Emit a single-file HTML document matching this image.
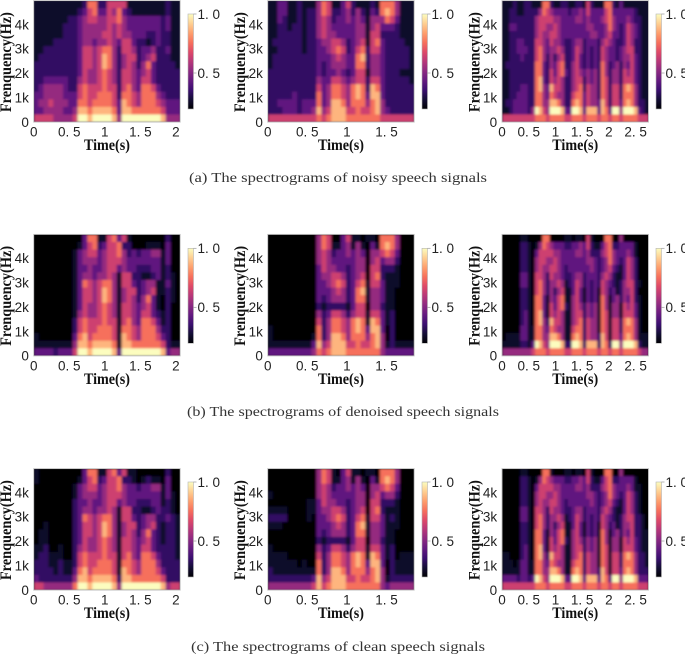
<!DOCTYPE html>
<html>
<head>
<meta charset="utf-8">
<title>Spectrograms of speech signals</title>
<style>
html,body{margin:0;padding:0;background:#fff;}
svg{display:block;}
text{fill:#222;}
.tick{font-family:"Liberation Sans",sans-serif;font-size:13.5px;}
.axis{font-family:"Liberation Serif",serif;font-weight:bold;font-size:16px;fill:#111;}
.cap{font-family:"Liberation Serif",serif;font-size:14px;fill:#333;}
</style>
</head>
<body>
<svg id="figure" xmlns="http://www.w3.org/2000/svg" width="685" height="655" viewBox="0 0 685 655">
<defs>
<filter id="soft" x="-5%" y="-5%" width="110%" height="110%"><feGaussianBlur stdDeviation="1.3 1.1"/></filter>
<linearGradient id="magma" x1="0" y1="1" x2="0" y2="0">
<stop offset="0" stop-color="#000004"/><stop offset="0.1" stop-color="#140e36"/><stop offset="0.2" stop-color="#3b0f70"/><stop offset="0.3" stop-color="#641a80"/><stop offset="0.4" stop-color="#8c2981"/><stop offset="0.5" stop-color="#b73779"/><stop offset="0.6" stop-color="#de4968"/><stop offset="0.7" stop-color="#f7705c"/><stop offset="0.8" stop-color="#fe9f6d"/><stop offset="0.9" stop-color="#fecf92"/><stop offset="1" stop-color="#fcfdbf"/>
</linearGradient>
</defs>
<text class="cap" x="189" y="182" textLength="298" lengthAdjust="spacingAndGlyphs">(a)  The spectrograms of noisy speech signals</text>
<text class="cap" x="187" y="416" textLength="312" lengthAdjust="spacingAndGlyphs">(b)  The spectrograms of denoised speech signals</text>
<text class="cap" x="191" y="651" textLength="294" lengthAdjust="spacingAndGlyphs">(c)  The spectrograms of clean speech signals</text>
</svg>
<script>
// Colour values are tenths of the colour-bar scale (0.2 to 1.0); rows run from 5 kHz down to 0 Hz.
const noisyA = [
[3,3,3,3,3,3,3,3,3,3,4,8,8,4,4,7,7,7,7,3,3,3,3,3,3,3,3,4,3,3],
[3,3,3,3,3,3,3,3,3,4,5,7,8,5,5,7,6,8,5,4,3,3,3,3,3,3,3,4,3,3],
[3,3,3,3,3,3,3,4,4,5,6,7,7,6,6,7,7,8,6,5,5,5,5,5,5,5,4,5,3,3],
[3,3,3,3,3,3,4,4,4,5,6,6,6,6,6,7,6,7,6,5,5,5,5,5,5,5,4,5,3,3],
[3,3,3,3,3,3,4,4,4,5,6,6,6,6,7,7,6,7,6,6,5,5,5,4,4,5,4,4,3,3],
[3,3,3,3,4,4,4,4,4,5,6,6,5,6,6,7,6,5,7,7,5,4,4,3,4,5,4,4,3,3],
[3,3,4,4,4,4,4,4,4,5,7,7,6,7,8,8,6,4,7,7,6,4,5,5,6,4,4,5,3,3],
[3,4,4,4,4,4,4,4,4,5,7,7,6,7,9,8,6,4,6,7,7,4,5,6,7,4,4,4,3,3],
[4,4,4,4,4,4,4,4,4,5,7,7,6,7,9,8,6,4,6,7,6,4,6,8,5,4,4,4,4,3],
[4,4,4,4,4,4,4,4,4,5,7,6,6,7,8,7,6,4,7,7,6,5,6,7,5,4,4,4,4,4],
[4,4,5,5,5,5,5,4,4,6,7,6,6,7,8,7,6,4,7,7,6,5,7,7,5,4,4,4,4,4],
[4,5,6,6,6,6,5,4,4,7,8,7,7,7,8,7,7,4,7,8,6,5,8,8,7,5,4,4,4,4],
[5,5,6,6,6,6,5,5,5,7,8,7,7,8,8,8,7,4,8,8,7,6,8,8,8,6,5,4,4,4],
[5,6,6,7,6,6,6,5,5,8,8,7,8,8,8,8,7,5,9,8,7,6,8,8,8,7,6,5,5,5],
[5,5,6,6,6,6,5,5,6,9,9,8,9,9,9,9,8,5,9,9,8,8,8,8,8,8,7,5,5,5],
[7,7,7,7,6,6,6,6,7,10,10,9,10,10,10,10,9,6,10,10,10,10,10,10,10,10,9,6,6,6]
];
const noisyB = [
[3,3,5,5,3,3,4,3,3,3,6,8,7,3,3,5,7,4,3,3,3,4,3,8,8,8,6,3,3,3],
[3,3,5,5,3,3,4,3,4,4,6,8,7,4,4,5,6,4,6,4,3,5,4,8,9,8,6,3,3,3],
[3,3,5,4,3,3,4,3,4,4,6,7,6,4,5,5,6,5,6,5,3,6,6,6,8,7,5,3,3,3],
[3,3,4,4,3,4,4,3,4,4,6,7,6,5,5,5,5,5,6,6,3,6,7,5,5,5,4,3,3,3],
[3,3,4,4,4,4,4,3,4,4,6,7,6,6,5,5,5,5,6,6,3,7,7,4,4,4,4,3,3,3],
[3,4,4,4,4,4,4,3,4,4,5,6,6,7,7,6,4,5,6,7,3,7,8,5,4,4,4,4,3,3],
[3,3,4,4,4,4,4,3,4,4,5,5,6,7,8,7,4,5,7,8,4,7,7,5,4,4,4,4,4,3],
[3,4,4,4,4,4,4,4,4,4,5,5,5,6,7,6,5,5,8,9,4,6,6,5,4,4,4,4,4,3],
[3,4,4,4,4,4,4,4,4,4,5,4,5,6,6,6,5,5,8,8,4,6,6,5,4,4,4,4,4,3],
[4,4,4,4,4,4,4,4,4,4,5,4,5,5,6,5,4,5,7,7,3,6,6,5,4,4,4,3,3,3],
[4,4,4,4,4,4,4,4,4,4,6,5,5,7,7,6,5,6,7,7,4,7,7,5,4,4,4,4,4,3],
[4,4,4,4,4,4,4,4,4,4,7,5,6,8,8,7,6,8,9,8,4,9,8,5,4,4,4,4,4,4],
[4,4,4,4,4,5,4,4,4,4,8,5,6,8,8,7,6,8,9,8,5,9,9,5,4,4,4,4,4,4],
[4,4,5,5,5,5,4,5,5,5,8,5,6,9,9,8,6,8,8,8,6,8,9,6,4,4,4,4,4,4],
[4,4,4,5,5,5,4,5,5,6,9,6,7,9,9,9,7,7,8,7,7,8,9,6,5,4,4,4,4,4],
[7,7,7,7,7,7,7,7,7,7,8,7,8,9,9,9,8,8,8,8,8,8,8,7,7,7,7,7,7,7]
];
const noisyC = [
[3,3,3,4,3,3,4,4,3,3,3,8,8,4,3,3,4,4,3,3,4,4,3,7,4,3,3,3,8,8,4,3,5,3,3,3,3,3,3,3],
[3,3,4,4,3,3,4,4,4,4,6,8,7,6,5,5,5,5,4,5,5,6,5,7,5,5,5,5,7,8,5,5,5,5,5,5,4,3,3,3],
[3,3,4,4,4,4,4,4,4,6,7,7,7,7,6,6,5,5,5,5,6,6,5,6,5,5,5,6,7,8,6,5,5,5,6,5,4,4,3,3],
[3,3,5,5,4,4,4,4,4,6,7,7,6,6,7,6,5,5,5,5,5,5,5,6,6,5,5,5,6,8,6,5,4,5,7,6,5,4,3,3],
[3,3,4,4,4,4,4,4,4,6,7,6,6,7,7,6,5,5,5,5,5,5,5,5,6,6,5,5,6,7,5,5,4,5,7,6,5,4,3,3],
[3,3,4,4,5,5,4,4,4,7,7,6,5,7,6,6,5,4,4,5,6,6,4,5,5,5,4,6,7,6,5,4,4,5,7,6,4,4,3,3],
[3,3,4,4,5,5,5,4,4,7,8,6,5,6,6,7,6,4,4,5,7,6,4,5,4,5,4,7,6,5,5,4,5,6,7,7,4,4,3,3],
[3,3,4,4,4,5,4,4,4,7,8,6,4,6,4,6,7,4,4,5,7,5,4,5,4,5,4,7,6,5,5,4,5,6,6,7,5,4,3,3],
[3,4,4,4,4,4,4,4,4,8,8,5,4,6,5,7,8,4,4,6,7,5,4,5,4,5,4,8,6,4,5,6,4,6,5,7,5,4,3,3],
[3,3,4,4,4,4,4,4,4,8,8,5,4,7,5,7,8,5,4,6,7,6,5,6,5,6,4,8,6,4,6,6,4,7,6,7,5,4,3,3],
[3,3,4,4,4,4,4,4,4,8,9,5,4,7,6,7,6,4,4,6,7,7,4,6,5,6,4,8,7,4,6,6,4,7,7,7,5,4,3,3],
[3,3,4,4,4,5,5,4,4,8,9,6,5,9,7,7,6,4,4,6,7,8,4,7,6,6,4,8,7,4,7,7,4,8,9,8,6,4,3,3],
[3,3,4,4,5,5,5,4,4,8,8,6,5,8,7,6,6,4,4,7,8,8,5,7,6,6,4,8,7,4,7,7,4,8,8,8,6,4,3,3],
[3,4,4,5,5,5,5,4,4,8,8,6,6,9,9,8,6,4,4,8,9,8,5,7,6,6,5,9,7,4,7,7,5,8,9,8,6,4,4,3],
[3,3,4,5,5,5,5,4,6,10,9,7,6,10,10,10,9,5,5,10,10,9,5,9,9,9,5,9,8,5,10,10,6,10,10,10,9,5,4,3],
[7,7,7,7,7,7,7,7,7,8,8,8,7,8,8,8,8,7,7,8,8,8,7,8,8,8,7,8,8,7,8,8,7,8,8,8,8,7,7,7]
];
const denoisedA = [
[2,2,2,2,2,2,2,2,2,2,5,8,8,3,3,7,8,5,7,3,2,2,2,2,2,2,2,4,2,2],
[2,2,2,2,2,2,2,2,2,3,5,7,8,4,5,7,7,8,4,4,2,2,2,3,3,3,2,5,2,2],
[2,2,2,2,2,2,2,2,3,5,6,7,7,5,6,7,7,8,6,4,5,4,5,5,6,6,3,5,2,2],
[2,2,2,2,2,2,2,2,3,5,6,6,6,5,6,7,7,7,6,5,5,5,5,5,5,5,3,5,2,2],
[2,2,2,2,2,2,2,2,3,5,5,6,5,5,6,7,7,5,6,5,5,4,4,4,5,5,3,4,2,2],
[2,2,2,2,2,2,2,2,3,5,6,6,5,6,6,7,6,3,7,7,4,4,3,3,4,5,3,4,3,2],
[2,2,2,2,2,2,2,2,3,5,8,7,6,7,8,8,6,3,7,7,5,4,5,6,6,3,3,5,3,2],
[2,2,2,2,2,2,2,2,3,5,7,7,6,7,9,8,6,3,6,7,7,4,5,6,7,3,3,4,3,2],
[2,2,2,2,2,2,2,2,3,5,7,7,6,7,9,8,6,3,6,7,6,4,6,8,5,3,2,4,3,2],
[2,2,2,2,2,2,2,2,3,5,7,6,6,7,8,7,6,3,7,7,6,5,6,7,5,3,2,4,2,2],
[2,2,2,2,2,2,2,2,3,6,7,6,6,7,8,7,6,3,7,7,6,5,7,7,5,4,3,4,2,2],
[2,2,2,2,2,2,2,2,4,7,8,7,7,7,8,7,7,3,7,8,6,5,8,8,7,5,3,4,2,2],
[2,2,2,2,2,2,2,2,4,7,8,7,7,8,8,8,7,3,8,8,7,6,8,8,8,6,4,4,2,2],
[3,2,2,2,2,2,2,2,5,8,9,7,8,8,8,8,7,3,9,8,7,6,8,8,8,7,5,4,2,2],
[3,3,3,3,3,3,3,3,6,9,9,8,9,9,9,9,8,3,9,9,8,8,8,8,8,8,7,4,3,3],
[5,5,5,5,4,5,5,5,7,10,10,9,10,10,10,10,9,5,10,10,10,10,10,10,10,10,9,5,6,6]
];
const denoisedB = [
[2,2,2,2,2,2,2,2,2,2,6,8,7,2,2,5,7,3,3,2,3,3,2,8,8,8,6,2,2,2],
[2,2,2,2,2,2,2,2,2,2,6,8,7,3,3,5,6,3,6,3,2,5,3,8,9,8,6,2,2,2],
[2,2,2,2,2,2,2,2,2,2,6,7,6,4,5,5,6,5,6,5,2,6,6,7,8,7,5,2,2,2],
[2,2,2,2,2,2,2,2,2,2,6,7,6,5,5,5,5,5,6,6,2,6,7,5,6,6,4,2,2,2],
[2,2,2,2,2,2,2,2,2,2,5,7,6,6,5,5,4,5,6,6,2,7,7,4,4,4,3,2,2,2],
[2,2,2,2,2,2,2,2,2,2,5,6,6,7,7,6,4,5,6,7,2,7,8,4,3,3,3,2,2,2],
[2,2,2,2,2,2,2,2,2,2,5,5,6,7,8,7,4,5,7,8,3,7,7,5,3,3,3,2,2,2],
[2,2,2,2,2,2,2,2,2,2,5,5,5,6,7,6,4,5,8,9,3,6,6,5,3,3,2,2,2,2],
[2,2,2,2,2,2,2,2,2,2,5,4,5,6,6,6,4,5,8,8,3,6,6,5,3,3,2,2,2,2],
[2,2,2,2,2,2,2,2,2,2,4,3,4,4,4,4,3,5,7,7,2,6,6,4,3,3,2,2,2,2],
[2,2,2,2,2,2,2,2,2,2,6,4,5,7,7,6,4,6,7,7,3,7,7,5,3,4,2,2,2,2],
[2,2,2,2,2,2,2,2,2,2,7,4,6,8,8,7,6,8,9,8,3,9,8,5,3,4,2,2,2,2],
[3,2,2,2,2,2,2,2,2,2,8,4,6,8,8,7,6,8,9,8,5,9,9,5,2,4,2,2,2,2],
[3,2,2,2,2,2,2,2,2,3,8,4,6,9,9,8,6,8,8,8,6,8,9,6,2,4,2,2,2,2],
[3,3,3,3,3,3,3,3,3,5,9,6,7,9,9,9,7,7,8,7,7,8,9,6,3,4,3,3,3,3],
[5,5,5,5,5,5,5,5,5,6,8,7,8,9,9,9,8,8,8,8,8,8,8,6,5,5,5,5,5,5]
];
const denoisedC = [
[2,2,2,2,2,3,3,2,2,2,2,8,8,2,2,2,2,3,3,2,3,3,2,7,3,2,2,2,8,8,2,2,6,2,2,2,2,2,2,2],
[2,2,2,2,2,4,4,3,2,3,6,8,7,6,5,5,5,4,4,5,5,6,5,7,4,3,3,5,7,8,4,4,5,5,5,5,3,2,2,2],
[2,2,2,2,2,4,4,3,2,5,7,7,7,7,6,6,5,5,5,5,6,6,5,6,4,4,4,6,7,8,6,5,5,5,6,5,3,2,2,2],
[2,2,2,2,2,4,4,3,2,6,7,7,6,6,7,6,5,5,5,5,5,5,5,6,6,5,4,5,6,8,6,5,4,5,7,6,4,2,2,2],
[2,2,2,2,2,4,4,3,2,6,7,6,6,7,7,6,5,4,5,5,5,5,5,5,6,5,4,5,6,7,5,4,3,5,7,6,4,2,2,2],
[2,2,2,2,2,5,5,3,2,7,7,6,4,7,6,6,5,4,4,5,6,6,4,5,5,5,4,6,7,6,4,3,3,5,7,6,4,2,2,2],
[2,2,2,2,2,5,5,3,2,7,8,6,4,6,6,7,6,3,4,5,7,6,4,5,4,5,4,7,6,5,4,3,4,6,7,7,4,3,2,2],
[2,2,2,2,2,4,4,3,2,7,8,6,4,6,4,6,7,3,3,5,7,5,3,5,4,5,3,7,6,4,5,3,4,6,6,7,4,2,2,2],
[2,2,2,2,2,4,4,3,2,8,8,5,3,6,5,7,8,3,3,6,7,5,3,5,4,5,3,8,6,3,5,6,4,6,5,7,4,3,2,2],
[2,2,2,2,2,4,4,3,2,8,8,5,3,7,5,7,8,4,3,6,7,6,4,6,5,6,3,8,6,3,6,6,3,7,6,7,5,3,2,2],
[2,2,2,2,2,4,5,3,2,8,9,5,3,7,6,7,6,3,3,6,7,7,4,6,5,6,3,8,7,3,6,6,3,7,7,7,5,3,2,2],
[2,2,2,2,2,4,5,3,2,8,9,6,4,9,7,7,6,3,3,6,7,8,4,7,6,6,3,8,7,3,7,7,4,8,9,8,6,3,2,2],
[2,2,2,2,2,5,5,3,3,8,8,6,5,8,7,6,6,3,3,7,8,8,4,7,6,6,3,8,7,3,7,7,4,8,8,8,6,3,2,2],
[2,3,3,3,3,5,5,3,3,8,8,6,6,9,9,8,6,3,3,8,9,8,4,7,6,6,4,9,7,3,7,7,5,8,9,8,6,3,3,3],
[3,3,3,3,3,4,4,3,5,10,9,7,6,10,10,10,9,4,4,10,10,9,4,9,9,9,4,9,8,4,10,10,6,10,10,10,9,4,3,3],
[6,6,6,6,6,6,6,6,7,8,8,8,7,8,8,8,8,7,7,8,8,8,7,8,8,8,7,8,8,7,8,8,7,8,8,8,8,7,6,6]
];
const cleanA = [
[3,2,2,2,2,2,2,2,2,2,5,8,8,3,3,7,8,5,7,3,3,2,2,2,2,2,2,4,2,2],
[3,2,2,2,2,2,2,2,2,3,5,7,8,4,5,7,7,8,4,4,3,2,3,4,3,3,2,5,2,2],
[2,2,2,2,2,2,2,2,3,5,6,7,7,5,6,7,7,8,6,5,5,4,5,5,6,6,3,5,2,2],
[2,2,2,2,2,2,2,2,3,5,6,6,6,5,6,7,7,7,6,5,5,5,5,5,5,5,3,5,3,2],
[2,2,2,2,2,2,2,2,4,5,5,6,5,5,6,7,7,5,6,5,5,4,4,4,5,5,3,4,3,2],
[2,2,2,2,2,2,2,2,4,5,6,6,5,6,6,7,6,3,7,7,4,4,3,3,4,5,4,4,3,2],
[2,2,2,2,2,2,2,2,4,5,8,7,6,7,8,8,6,3,7,7,5,4,5,6,6,4,4,5,4,3],
[2,2,3,2,2,2,2,2,4,5,7,7,6,7,9,8,6,3,6,7,7,4,5,6,7,4,3,4,4,3],
[2,3,3,2,2,2,2,2,4,5,7,7,6,7,9,8,6,3,6,7,6,4,6,8,5,4,3,4,4,3],
[2,3,3,2,2,2,2,2,4,5,7,6,6,7,8,7,6,3,7,7,6,5,6,7,5,4,3,4,4,3],
[3,3,4,2,2,3,2,2,4,6,7,6,6,7,8,7,6,3,7,7,6,5,7,7,5,4,4,4,4,3],
[3,4,4,3,3,3,2,2,4,7,8,7,7,7,8,7,7,3,7,8,6,5,8,8,7,5,4,4,4,3],
[4,4,4,3,3,4,3,3,4,7,8,7,7,8,8,8,7,3,8,8,7,6,8,8,8,6,4,4,4,4],
[4,4,4,4,3,4,3,3,5,8,9,7,8,8,8,8,7,3,9,8,7,6,8,8,8,7,5,4,4,4],
[5,4,4,4,4,4,4,4,6,9,9,8,9,9,9,9,8,4,9,9,8,8,8,8,8,8,7,4,4,4],
[7,7,6,6,6,6,6,6,8,10,10,9,10,10,10,10,9,6,10,10,10,10,10,10,10,10,9,6,7,7]
];
const cleanB = [
[2,2,2,2,2,2,2,2,2,2,6,8,7,3,2,5,7,3,3,2,3,3,2,8,8,8,6,2,2,2],
[2,2,2,2,2,2,2,2,2,2,6,8,7,3,3,5,6,3,6,3,2,5,3,8,9,8,6,2,2,2],
[2,2,2,2,2,2,2,2,2,2,6,7,6,4,5,5,6,5,6,5,2,6,6,7,8,7,5,2,2,2],
[3,2,2,2,2,2,2,2,2,2,6,7,6,5,5,5,5,5,6,6,2,6,7,5,6,6,4,2,2,2],
[2,2,2,2,2,2,2,2,3,3,5,7,6,6,5,5,4,5,6,6,2,7,7,4,4,4,3,2,2,2],
[3,3,3,3,2,2,2,2,3,3,5,6,6,7,7,6,4,5,6,7,2,7,8,4,3,3,3,2,2,2],
[4,4,4,4,2,2,2,2,3,2,5,5,6,7,8,7,4,5,7,8,3,7,7,5,3,4,3,2,2,2],
[3,3,3,2,2,2,2,2,2,2,5,5,5,6,7,6,4,5,8,9,3,6,6,5,3,3,3,2,2,2],
[2,2,2,2,2,2,2,2,2,2,5,4,5,6,6,6,4,5,8,8,3,6,6,5,3,3,2,2,2,2],
[2,2,2,2,2,2,2,2,2,2,4,3,4,4,4,4,3,5,7,7,2,6,6,4,3,3,2,2,2,2],
[3,2,2,2,2,2,2,2,2,2,6,4,5,7,7,6,4,6,7,7,3,7,7,5,3,4,2,2,2,2],
[3,3,3,3,2,2,2,2,2,2,7,4,6,8,8,7,6,8,9,8,3,9,8,5,3,4,2,3,3,3],
[3,3,3,3,3,3,2,3,2,2,8,4,6,8,8,7,6,8,9,8,5,9,9,5,2,4,3,3,3,3],
[4,3,3,3,3,3,3,3,3,3,8,4,6,9,9,8,6,8,8,8,6,8,9,6,2,4,3,3,3,3],
[4,4,4,4,4,4,4,4,4,5,9,6,7,9,9,9,7,7,8,7,7,8,9,6,3,4,4,4,4,4],
[6,6,6,6,6,6,6,6,6,7,9,7,8,9,9,9,8,8,8,8,8,8,8,6,5,6,6,6,6,6]
];
const cleanC = [
[2,2,2,2,2,3,3,2,2,2,2,8,8,3,2,2,2,3,3,2,3,3,2,7,3,2,2,2,8,8,2,2,6,2,2,2,2,2,2,2],
[2,2,2,2,2,4,4,3,2,3,6,8,7,6,5,5,5,4,4,5,5,6,5,7,4,3,3,5,7,8,4,4,5,5,5,5,3,2,2,2],
[2,2,2,2,2,4,4,3,2,5,7,7,7,7,6,6,5,5,5,5,6,6,5,6,4,4,4,6,7,8,6,5,5,5,6,5,3,3,2,2],
[2,2,2,2,2,4,4,3,2,6,7,7,6,6,7,6,5,5,5,5,5,5,5,6,6,5,4,5,6,8,6,5,4,5,7,6,4,3,2,2],
[2,2,2,2,2,4,4,3,2,6,7,6,6,7,7,6,5,4,5,5,5,5,5,5,6,5,4,5,6,7,5,4,3,5,7,6,4,3,2,2],
[2,2,2,2,2,5,5,3,2,7,7,6,4,7,6,6,5,4,4,5,6,6,4,5,5,5,4,6,7,6,4,3,3,5,7,6,4,3,2,2],
[2,2,2,2,2,5,5,3,2,7,8,6,4,6,6,7,6,3,4,5,7,6,4,5,4,5,4,7,6,5,4,3,4,6,7,7,4,4,3,2],
[2,2,2,2,2,4,4,3,2,7,8,6,4,6,4,6,7,3,3,5,7,5,3,5,4,5,3,7,6,4,5,3,4,6,6,7,4,4,3,2],
[2,2,2,2,2,4,4,3,2,8,8,5,3,6,5,7,8,3,3,6,7,5,3,5,4,5,3,8,6,3,5,6,4,6,5,7,4,4,3,3],
[2,2,2,2,2,4,4,3,2,8,8,5,3,7,5,7,8,4,3,6,7,6,4,6,5,6,3,8,6,3,6,6,3,7,6,7,5,4,3,3],
[2,2,2,2,2,4,5,3,2,8,9,5,3,7,6,7,6,3,3,6,7,7,4,6,5,6,3,8,7,3,6,6,3,7,7,7,5,4,3,3],
[3,3,2,2,2,4,5,3,2,8,9,6,4,9,7,7,6,3,3,6,7,8,4,7,6,6,3,8,7,3,7,7,4,8,9,8,6,4,4,3],
[3,3,3,2,3,5,5,3,3,8,8,6,5,8,7,6,6,3,3,7,8,8,4,7,6,6,3,8,7,3,7,7,4,8,8,8,6,4,4,3],
[3,3,3,3,3,5,5,3,3,8,8,6,6,9,9,8,6,3,3,8,9,8,4,7,6,6,4,9,7,3,7,7,5,8,9,8,6,4,4,4],
[5,5,5,5,4,5,5,4,5,10,9,7,6,10,10,10,9,5,5,10,10,9,5,9,9,9,5,9,8,5,10,10,6,10,10,10,9,5,5,5],
[7,7,7,7,7,7,7,7,7,8,8,8,7,8,8,8,8,7,7,8,8,8,7,8,8,8,7,8,8,7,8,8,7,8,8,8,8,7,7,7]
];
const timeTicksA = [0,0.5,1,1.5,2];
const timeLabelsA = ['0','0. 5','1','1. 5','2'];
const timeTicksB = [0,0.5,1,1.5];
const timeLabelsB = ['0','0. 5','1','1. 5'];
const timeTicksC = [0,0.5,1,1.5,2,2.5];
const timeLabelsC = ['0','0. 5','1','1. 5','2','2. 5'];
const freqTicks = [0,1000,2000,3000,4000];
const freqLabels = ['0','1k','2k','3k','4k'];
const barTicks = [1.0,0.5];
const barLabels = ['1. 0','0. 5'];
const durations = [2.06,1.85,2.74];
const freqMax = 4980;
const barMin = 0.195;
const barMax = 1.0;

const svg = document.getElementById('figure');
const NS = 'http://www.w3.org/2000/svg';
const stops = ['#000004','#140e36','#3b0f70','#641a80','#8c2981','#b73779','#de4968','#f7705c','#fe9f6d','#fecf92','#fcfdbf'];
function hex(c){return [1,3,5].map(function(i){return parseInt(c.substr(i,2),16);});}
function colour(v){
  let t=(v/10-0.2)/0.8;
  t=Math.pow(Math.max(0,Math.min(1,t)),1.25)*(stops.length-1);
  const i=Math.min(stops.length-2,Math.floor(t));
  const a=hex(stops[i]),b=hex(stops[i+1]),f=t-i;
  return 'rgb('+a.map(function(x,k){return Math.round(x+(b[k]-x)*f);}).join(',')+')';
}
function make(tag,attrs,parent,txt){
  const el=document.createElementNS(NS,tag);
  for(const k in attrs){el.setAttribute(k,attrs[k]);}
  if(txt!==undefined){el.textContent=txt;}
  parent.appendChild(el);
  return el;
}
const plotW=146.5, plotH=121.5;
const lefts=[33.7,267.7,502];
const tops=[0.6,234.4,468.6];
const barLefts=[188,422,656];
const barTops=[14,248.3,482];
const barH=95;
const timeTicks=[timeTicksA,timeTicksB,timeTicksC];
const timeLabels=[timeLabelsA,timeLabelsB,timeLabelsC];
const grids=[[noisyA,noisyB,noisyC],[denoisedA,denoisedB,denoisedC],[cleanA,cleanB,cleanC]];
const rowNames=['noisy','denoised','clean'];

function drawPanel(row,col){
  const grid=grids[row][col];
  const left=lefts[col], top=tops[row];
  const xMax=durations[col];
  const xScale=function(t){return left+t/xMax*plotW;};
  const yScale=function(f){return top+plotH-f/freqMax*plotH;};
  const g=make('g',{},svg);
  
  
  const id='clip'+row+col;
  const clip=make('clipPath',{id:id},g);
  make('rect',{x:left,y:top,width:plotW,height:plotH},clip);
  const holder=make('g',{'clip-path':'url(#'+id+')'},g);
  const back=make('rect',{x:left,y:top,width:plotW,height:plotH,fill:colour(row===0?3:2)},holder);
  
  
  const cells=make('g',{filter:'url(#soft)'},holder);
  const nRows=grid.length;
  grid.forEach(function(vals,r){
    const nCols=vals.length;
    const fHigh=freqMax*(1-r/nRows), fLow=freqMax*(1-(r+1)/nRows);
    vals.forEach(function(v,c){
      const t0=xMax*c/nCols, t1=xMax*(c+1)/nCols;
      const cell=make('rect',{x:xScale(t0),y:yScale(fHigh),width:xScale(t1)-xScale(t0)+0.4,height:yScale(fLow)-yScale(fHigh)+0.4,fill:colour(v)},cells);
      
      
    });
  });
  const frame=make('rect',{x:left,y:top,width:plotW,height:plotH,fill:'none',stroke:'#c4c4c4','stroke-width':0.9},g);
  
  
  timeTicks[col].forEach(function(t,i){
    const lab=make('text',{class:'tick',x:xScale(t),y:top+plotH+14.5,'text-anchor':'middle'},g,timeLabels[col][i]);
    
    
  });
  freqTicks.forEach(function(f,i){
    const lab=make('text',{class:'tick',x:left-4.8,y:yScale(f)+4.8,'text-anchor':'end'},g,freqLabels[i]);
    
    
  });
  const xTitle=make('text',{class:'axis',x:left+plotW/2,y:top+plotH+28,'text-anchor':'middle',textLength:46,lengthAdjust:'spacingAndGlyphs'},g,'Time(s)');
  
  
  const cy=top+61.5, cx=left-22.5;
  const yTitle=make('text',{class:'axis',x:cx,y:cy,'text-anchor':'middle',textLength:100,lengthAdjust:'spacingAndGlyphs',transform:'rotate(-90 '+cx+' '+cy+')'},g,'Frenquency(Hz)');
  
  
  const bx=barLefts[col], by=barTops[row];
  const barScale=function(v){return by+barH-(v-barMin)/(barMax-barMin)*barH;};
  const bar=make('rect',{x:bx,y:by,width:5.5,height:barH,fill:'url(#magma)',stroke:'#b5b5b5','stroke-width':0.6},g);
  
  
  barTicks.forEach(function(v,i){
    const tick=make('line',{x1:bx+5.5,x2:bx+8.5,y1:barScale(v),y2:barScale(v),stroke:'#999','stroke-width':0.7},g);
    
    
    const lab=make('text',{class:'tick',x:bx+9.5,y:barScale(v)+4.8},g,barLabels[i]);
    
    
  });
}
for(let r=0;r<3;r++){for(let c=0;c<3;c++){drawPanel(r,c);}}
</script>
</body>
</html>
